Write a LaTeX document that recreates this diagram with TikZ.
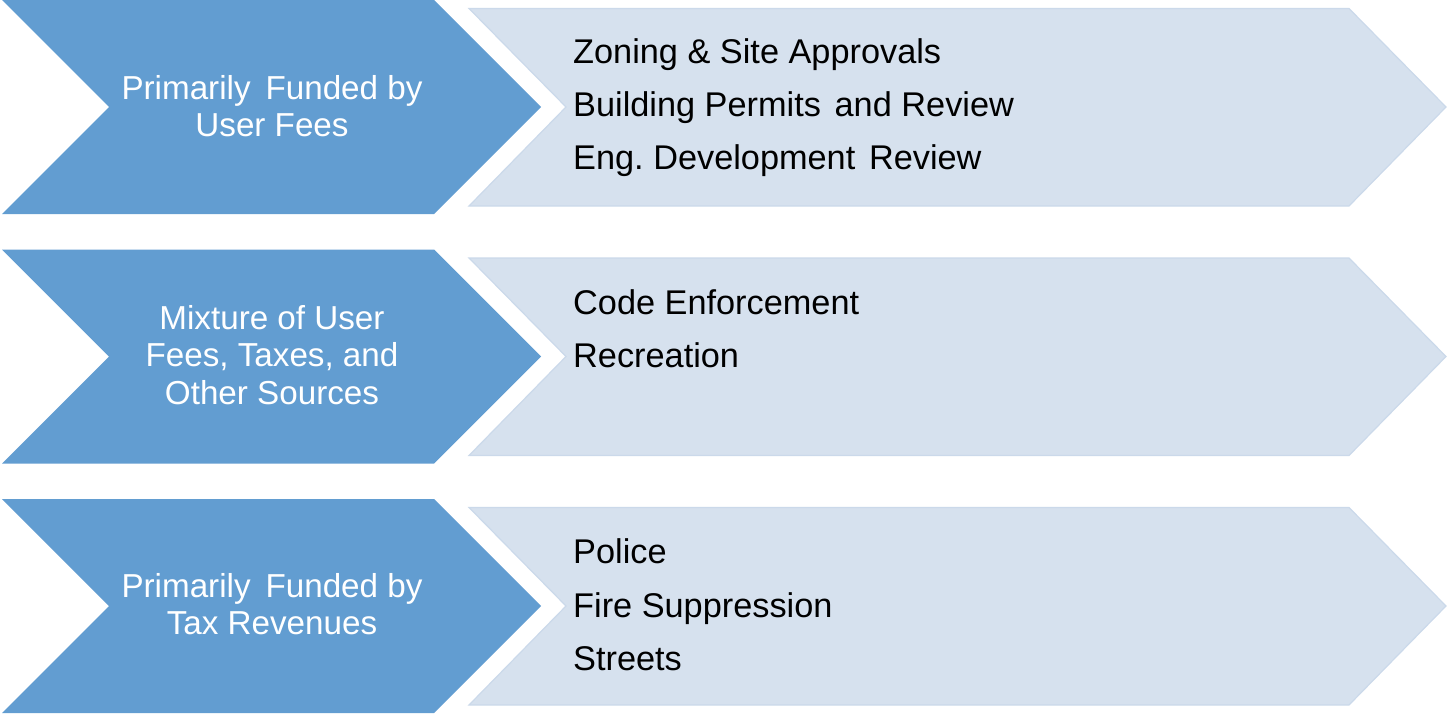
\documentclass[tikz,border=0pt]{standalone}
\usepackage{fontspec}
\setmainfont{Liberation Sans}
\frenchspacing
\definecolor{darkchev}{HTML}{629DD1}
\definecolor{lightchev}{HTML}{D6E1EE}
\definecolor{lightedge}{HTML}{CBD9EA}
\tikzset{
  darkshape/.style={fill=darkchev, draw=none},
  lightshape/.style={fill=lightchev, draw=lightedge, line width=1.2pt, line join=miter},
  headtext/.style={text=white, align=center, inner sep=0pt, font=\fontsize{33.2}{37.5}\selectfont},
  itemtext/.style={text=black, anchor=base west, inner sep=0pt, font=\fontsize{34.3}{38}\selectfont},
}
\begin{document}
\begin{tikzpicture}[x=1pt,y=-1pt]
\useasboundingbox (0,0) rectangle (1447,714);
\foreach \r/\o in {0/0, 1/249.5, 2/499}{
  \begin{scope}[yshift=-\o pt]
    \fill[darkshape] (2,0) -- (434,0) -- (541,107) -- (434,214) -- (2,214) -- (109,107) -- cycle;
    \filldraw[lightshape] (469,8.5) -- (1349,8.5) -- (1446,107) -- (1349,206) -- (469,206) -- (566,107) -- cycle;
  \end{scope}
}
\node[headtext] (h1) at (272,106) {Primarily\hspace{0.45em}Funded by\\User Fees};
\node[headtext] (h2) at (272,355) {Mixture of User\\Fees, Taxes, and\\Other Sources};
\node[headtext] (h3) at (272,604) {Primarily\hspace{0.45em}Funded by\\Tax Revenues};
\node[itemtext] (a1) at (573,64) {Zoning \& Site Approvals};
\node[itemtext] (a2) at (573,117) {Building Permits\hspace{0.4em}and Review};
\node[itemtext] (a3) at (573,170) {Eng. Development\hspace{0.4em}Review};
\node[itemtext] (b1) at (573,314) {Code Enforcement};
\node[itemtext] (b2) at (573,367) {Recreation};
\node[itemtext] (c1) at (573,563) {Police};
\node[itemtext] (c2) at (573,617) {Fire Suppression};
\node[itemtext] (c3) at (573,670) {Streets};
\end{tikzpicture}
\end{document}
